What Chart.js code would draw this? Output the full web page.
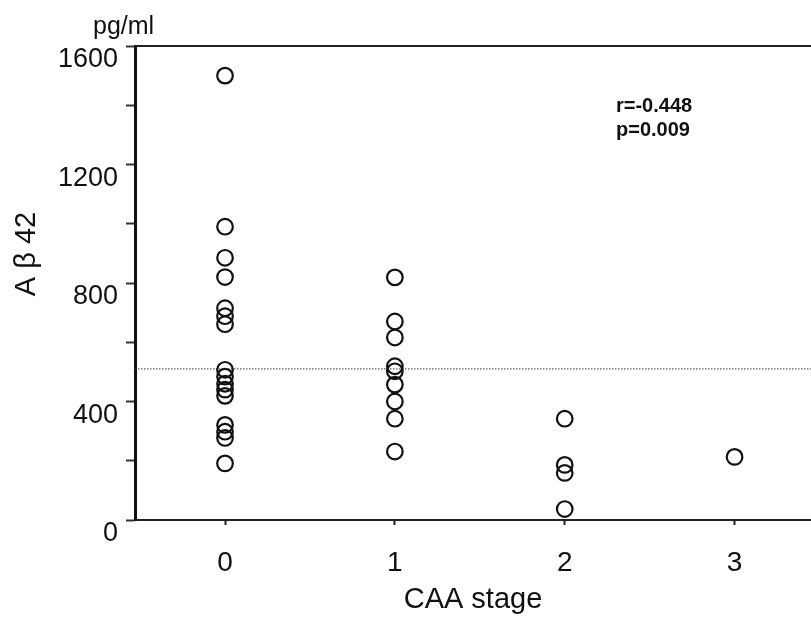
<!DOCTYPE html>
<html>
<head>
	<meta charset="utf-8">
	<title>Aβ42 by CAA stage</title>
	<script src="https://cdn.jsdelivr.net/npm/chart.js"></script>
	<style>
		html, body { margin: 0; padding: 0; background: #fff; overflow: hidden; }
		canvas { display: block; }
	</style>
</head>
<body>
	<canvas id="abChart" width="811" height="627"></canvas>
	<script>
		// values
		var stages = [0, 1, 2, 3];
		var stage0 = [1500, 990, 885, 820, 715, 688, 661, 507, 484, 460, 440, 419, 321, 298, 277, 191];
		var stage1 = [819, 670, 616, 519, 502, 457, 400, 342, 231];
		var stage2 = [342, 186, 159, 37];
		var stage3 = [213];
		var cutoff = 510;
		var yTicks = [0, 400, 800, 1200, 1600];
		var xMin = -0.53, xMax = 3.45;

		var points = [];
		[stage0, stage1, stage2, stage3].forEach(function (vals, i) {
			vals.forEach(function (v) { points.push({ x: stages[i], y: v }); });
		});

		var fontFam = '"Liberation Sans", Arial, sans-serif';

		var textPlugin = {
			id: 'texts',
			afterDraw: function (chart) {
				var c = chart.ctx;
				c.save();
				c.fillStyle = '#111';
				c.textAlign = 'left';
				c.textBaseline = 'alphabetic';
				c.font = '25px ' + fontFam;
				c.fillText('pg/ml', 93, 34);
				c.font = 'bold 20px ' + fontFam;
				c.fillText('r=-0.448', 616, 112);
				c.fillText('p=0.009', 616, 136);
				c.translate(27, 254);
				c.rotate(-Math.PI / 2);
				c.textAlign = 'center';
				c.textBaseline = 'middle';
				c.font = '29px ' + fontFam;
				c.fillText('A \u03b2 42', 0, 0);
				c.restore();
			}
		};

		function noSidePad(s) { s.paddingLeft = 0; s.paddingRight = 0; }

		var ctx = document.getElementById('abChart').getContext('2d');
		var chart = new Chart(ctx, {
			type: 'scatter',
			data: {
				datasets: [{
					label: 'A\u03b242',
					data: points,
					pointStyle: 'circle',
					pointRadius: 7.8,
					pointBorderWidth: 2.2,
					borderColor: '#111',
					backgroundColor: 'rgba(0,0,0,0)'
				}, {
					type: 'line',
					label: 'cutoff',
					data: [{ x: xMin, y: cutoff }, { x: xMax, y: cutoff }],
					borderColor: '#333',
					borderWidth: 1,
					borderDash: [1.5, 1.5],
					pointRadius: 0,
					fill: false
				}]
			},
			options: {
				responsive: false,
				animation: false,
				layout: { padding: 0, autoPadding: false },
				plugins: {
					legend: { display: false },
					tooltip: { enabled: false }
				},
				scales: {
					x: {
						type: 'linear',
						position: 'bottom',
						min: xMin,
						max: xMax,
						afterBuildTicks: function (s) { s.ticks = stages.map(function (v) { return { value: v }; }); },
						afterFit: function (s) { s.height = 107; noSidePad(s); },
						ticks: { color: '#111', font: { size: 28, family: fontFam }, padding: 21 },
						grid: { drawOnChartArea: false, tickLength: 5, tickWidth: 2, color: '#222' },
						border: { color: '#222', width: 2 },
						title: {
							display: true,
							text: 'CAA stage',
							color: '#111',
							font: { size: 29, family: fontFam },
							padding: { top: 0, bottom: 10 }
						}
					},
					x2: {
						type: 'linear',
						position: 'top',
						min: xMin,
						max: xMax,
						afterFit: function (s) { s.height = 46; noSidePad(s); },
						ticks: { display: false },
						grid: { display: false },
						border: { color: '#222', width: 2 }
					},
					y: {
						min: 0,
						max: 1600,
						afterFit: function (s) { s.width = 135; },
						ticks: {
							stepSize: 200,
							color: '#111',
							padding: 8,
							labelOffset: 14,
							font: { size: 27, family: fontFam },
							callback: function (v) { return yTicks.indexOf(v) >= 0 ? v : ''; }
						},
						grid: { drawOnChartArea: false, tickLength: 9, tickWidth: 2, color: '#333' },
						border: { color: '#111', width: 3 }
					}
				}
			},
			plugins: [textPlugin]
		});
	</script>
</body>
</html>
